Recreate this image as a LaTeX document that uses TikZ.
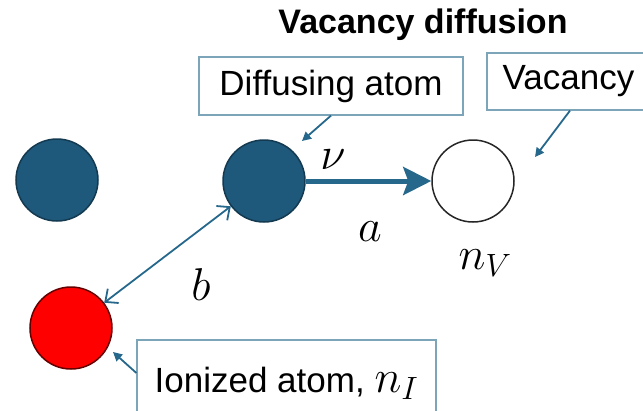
\documentclass[tikz,border=0pt]{standalone}
\usepackage{fix-cm}
\usepackage{fontspec}
\setmainfont{Liberation Sans}
\usetikzlibrary{arrows.meta}
\definecolor{atomblue}{RGB}{30,88,122}
\definecolor{atomedge}{RGB}{20,58,82}
\definecolor{arrowblue}{RGB}{38,104,140}
\definecolor{boxedge}{RGB}{125,165,185}
\begin{document}
\begin{tikzpicture}[x=1pt,y=-1pt,
  atom/.style={circle,minimum size=82pt,inner sep=0pt,line width=1.5pt},
  lbl/.style={draw=boxedge,line width=1.2pt,fill=white,inner sep=0pt,font=\fontsize{35}{40}\selectfont},
  ptr/.style={draw=arrowblue,line width=1.8pt,-{Triangle[length=9pt,width=9pt]}},
  bigarrow/.style={draw=arrowblue,line width=5pt,-{Stealth[length=28pt,width=28pt,inset=5pt]}},
  dbl/.style={draw=arrowblue,line width=1.8pt,{Straight Barb[length=10pt,width=18pt]}-{Straight Barb[length=10pt,width=18pt]}},
  mlab/.style={inner sep=0pt,font=\fontsize{46}{50}\selectfont}]
\useasboundingbox (0,0) rectangle (643,410);
% title
\node[font=\bfseries\fontsize{34}{40}\selectfont] (title) at (423,25) {Vacancy diffusion};
% atoms
\node[atom,fill=atomblue,draw=atomedge] (a1) at (57,180) {};
\node[atom,fill=atomblue,draw=atomedge] (a2) at (264,181) {};
\node[atom,fill=white,draw=black!85] (vac) at (473,181) {};
\node[atom,fill=red,draw=black!60!red] (ion) at (71,328) {};
% label boxes
\node[lbl,minimum width=264pt,minimum height=58pt] (db) at (331,86) {Diffusing atom};
\node[lbl,minimum width=163pt,minimum height=57pt] (vb) at (568.5,81.5) {Vacancy};
\node[lbl,minimum width=299pt,minimum height=86pt] (ib) at (286.5,383) {Ionized atom, {\fontsize{46}{50}\selectfont$n_I$}};
% pointer ends
\coordinate (dp) at (302,141);
\coordinate (vp) at (535,157);
\coordinate (ip) at (113,352);
\draw[ptr] (db.south) -- (dp);
\draw[ptr] ([xshift=1.5pt]vb.south) -- (vp);
\draw[ptr] ([yshift=10pt]ib.west) -- (ip);
% jump arrow and distance arrow
\draw[bigarrow] (a2) -- (vac);
\draw[dbl] (ion) -- (a2);
% math labels
\node[mlab] (nu) at (333,160) {$\nu$};
\node[mlab] (alab) at (370,232) {$a$};
\node[mlab] (blab) at (201,285) {$b$};
\node[mlab] (nv) at (485,263) {$n_V$};
\end{tikzpicture}
\end{document}
